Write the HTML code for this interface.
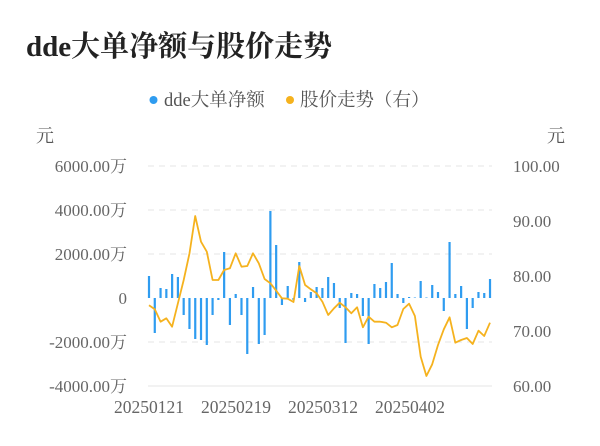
<!DOCTYPE html>
<html><head><meta charset="utf-8"><style>
html,body{margin:0;padding:0;background:#fff;}
svg{display:block;font-family:"Liberation Serif","Noto Serif CJK SC","Noto Sans CJK SC",serif;}
</style></head><body>
<svg width="600" height="446" viewBox="0 0 600 446" xmlns="http://www.w3.org/2000/svg">
<text x="26" y="56" font-size="29" font-weight="bold" fill="#222">dde大单净额与股价走势</text>
<circle cx="153.5" cy="100" r="4" fill="#2f9cf0"/>
<text x="164" y="106" font-size="18.5" fill="#555">dde大单净额</text>
<circle cx="290" cy="100" r="4" fill="#f5b21e"/>
<text x="300" y="106" font-size="18.5" fill="#555">股价走势（右）</text>
<text x="36" y="142" font-size="18" fill="#555">元</text>
<text x="547" y="142" font-size="18" fill="#555">元</text>
<g stroke="#e6e6e6" stroke-width="1" stroke-dasharray="6,5">
<line x1="148" y1="166" x2="492" y2="166"/>
<line x1="148" y1="210" x2="492" y2="210"/>
<line x1="148" y1="254" x2="492" y2="254"/>
<line x1="148" y1="342" x2="492" y2="342"/>
</g>
<line x1="148" y1="386" x2="492" y2="386" stroke="#e6e6e6"/>
<g font-size="17" fill="#666" text-anchor="end">
<text x="127" y="172">6000.00万</text>
<text x="127" y="216">4000.00万</text>
<text x="127" y="260">2000.00万</text>
<text x="127" y="304">0</text>
<text x="127" y="348">-2000.00万</text>
<text x="127" y="392">-4000.00万</text>
</g>
<g font-size="17" fill="#666">
<text x="513" y="172">100.00</text>
<text x="513" y="227">90.00</text>
<text x="513" y="282">80.00</text>
<text x="513" y="337">70.00</text>
<text x="513" y="392">60.00</text>
</g>
<g font-size="17.5" fill="#666" text-anchor="middle">
<text x="149" y="413">20250121</text>
<text x="236" y="413">20250219</text>
<text x="323" y="413">20250312</text>
<text x="410" y="413">20250402</text>
</g>
<g id="bars" fill="#2f9cf0"></g>
<polyline id="line" fill="none" stroke="#f5b21e" stroke-width="1.8" stroke-linejoin="round"/>
<script>
var b=[22,-35,10,9,24,21,-17,-31,-41,-42,-47,-17,-2,46,-27,4,-17,-56,11,-46,-37,87,53,-7,12,-2,36,-4,6,11,10,21,15,-10,-45,5,4,-18,-46,14,10,16,35,4,-5,1,0.5,17,0.5,13,6,-13,56,4,12,-31,-10,6,5,19];
var l=[305.3,309.3,321.7,318.3,326.7,303.3,280,253.3,216,241.7,251.7,280,280,270,268.3,253.3,266.7,266,253.3,263.3,279,283.3,290.7,298.3,298.7,302,266,285,289.3,293.3,301.7,315,308.3,302.7,307.3,313.3,307.3,327.3,316.7,321.7,321.7,322.7,327.3,325,309,303.7,316,356.7,376,364.3,345,329.3,317.3,342.7,340,338,344,330.7,336,322.7];
var g=document.getElementById('bars'),pts=[];
for(var i=0;i<60;i++){var x=149+i*5.78;var h=b[i];
var r=document.createElementNS('http://www.w3.org/2000/svg','rect');
r.setAttribute('x',x-1.1);r.setAttribute('width',2.2);
r.setAttribute('y',h>0?298-h:298);r.setAttribute('height',Math.max(Math.abs(h),0.5));
g.appendChild(r);pts.push(x.toFixed(1)+','+l[i]);}
document.getElementById('line').setAttribute('points',pts.join(' '));
</script>
</svg>
</body></html>
